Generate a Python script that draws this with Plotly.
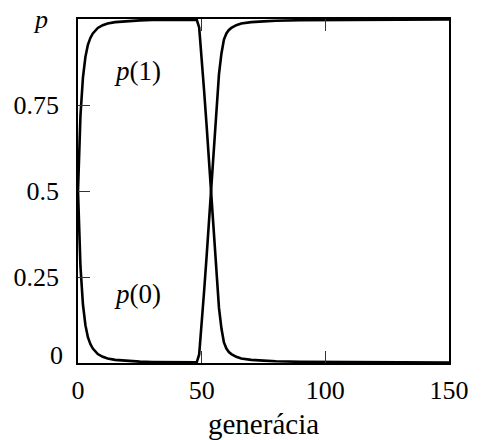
import plotly.graph_objects as go

# generations and allele frequencies
gen = [0, 1, 2, 3, 4, 5, 6, 7, 8, 10, 12, 15, 20, 25, 30, 40, 48, 49, 50, 51, 52, 53,
       54, 55, 56, 57, 58, 59, 60, 61, 62, 64, 66, 68, 70, 75, 80, 90, 100, 120, 150]
p1 = [0.5, 0.72, 0.83, 0.89, 0.925, 0.945, 0.958, 0.967, 0.974, 0.982, 0.987, 0.991,
      0.994, 0.996, 0.997, 0.998, 0.998, 0.975, 0.89, 0.79, 0.69, 0.58, 0.47, 0.36,
      0.25, 0.16, 0.10, 0.06, 0.042, 0.032, 0.026, 0.018, 0.013, 0.011, 0.009, 0.007,
      0.005, 0.0035, 0.003, 0.002, 0.0015]
p0 = [0.5, 0.28, 0.17, 0.11, 0.075, 0.055, 0.042, 0.033, 0.026, 0.018, 0.013, 0.009,
      0.006, 0.004, 0.003, 0.002, 0.002, 0.025, 0.11, 0.21, 0.31, 0.42, 0.53, 0.64,
      0.75, 0.84, 0.90, 0.94, 0.958, 0.968, 0.974, 0.982, 0.987, 0.989, 0.991, 0.993,
      0.995, 0.9965, 0.997, 0.998, 0.9985]

x_ticks = [0, 50, 100, 150]
y_ticks = [0.25, 0.5, 0.75]
y_ticktext = ["0.25", "0.5", "0.75"]
x_title = "generácia"
y_title = "<i>p</i>"
label_p1 = "<i>p</i>(1)"
label_p0 = "<i>p</i>(0)"

FONT = "Liberation Serif, Times New Roman, serif"
FS = 26

fig = go.Figure()
for ys in (p1, p0):
    fig.add_trace(go.Scatter(x=gen, y=ys, mode="lines",
                             line=dict(color="black", width=2.6),
                             showlegend=False, hoverinfo="skip"))

fig.update_layout(
    width=481, height=440,
    margin=dict(l=78, r=28, t=19, b=77),
    paper_bgcolor="white", plot_bgcolor="white",
    font=dict(family=FONT, size=FS, color="black"),
    xaxis=dict(range=[0, 150], tickvals=x_ticks, ticks="inside", ticklen=12,
               tickwidth=1.2, tickcolor="#333", showline=True, linecolor="black",
               linewidth=1.5, mirror="ticks", showgrid=False, zeroline=False,
               ticklabelstandoff=3),
    yaxis=dict(range=[0, 1], tickvals=y_ticks, ticktext=y_ticktext, ticks="inside",
               ticklen=12, tickwidth=1.2, tickcolor="#333", showline=True,
               linecolor="black", linewidth=1.5, mirror=True, showgrid=False,
               zeroline=False, ticklabelstandoff=12),
    annotations=[
        dict(text="0", xref="paper", yref="y", x=0, y=0, xanchor="right",
             yanchor="middle", xshift=-13, yshift=8, showarrow=False),
        dict(text=y_title, xref="paper", yref="paper", x=-0.101, y=1.0,
             xanchor="center", yanchor="middle", showarrow=False),
        dict(text=x_title, xref="paper", yref="paper", x=0.5, y=-0.177,
             xanchor="center", yanchor="middle", showarrow=False,
             font=dict(size=29)),
        dict(text=label_p1, xref="x", yref="y", x=24, y=0.85,
             xanchor="center", yanchor="middle", showarrow=False,
             font=dict(size=27)),
        dict(text=label_p0, xref="x", yref="y", x=24, y=0.2,
             xanchor="center", yanchor="middle", showarrow=False,
             font=dict(size=27)),
    ],
)

fig.write_html("out.html", config={"displayModeBar": False},
               post_script="document.body.style.margin='0';document.body.style.padding='0';")
